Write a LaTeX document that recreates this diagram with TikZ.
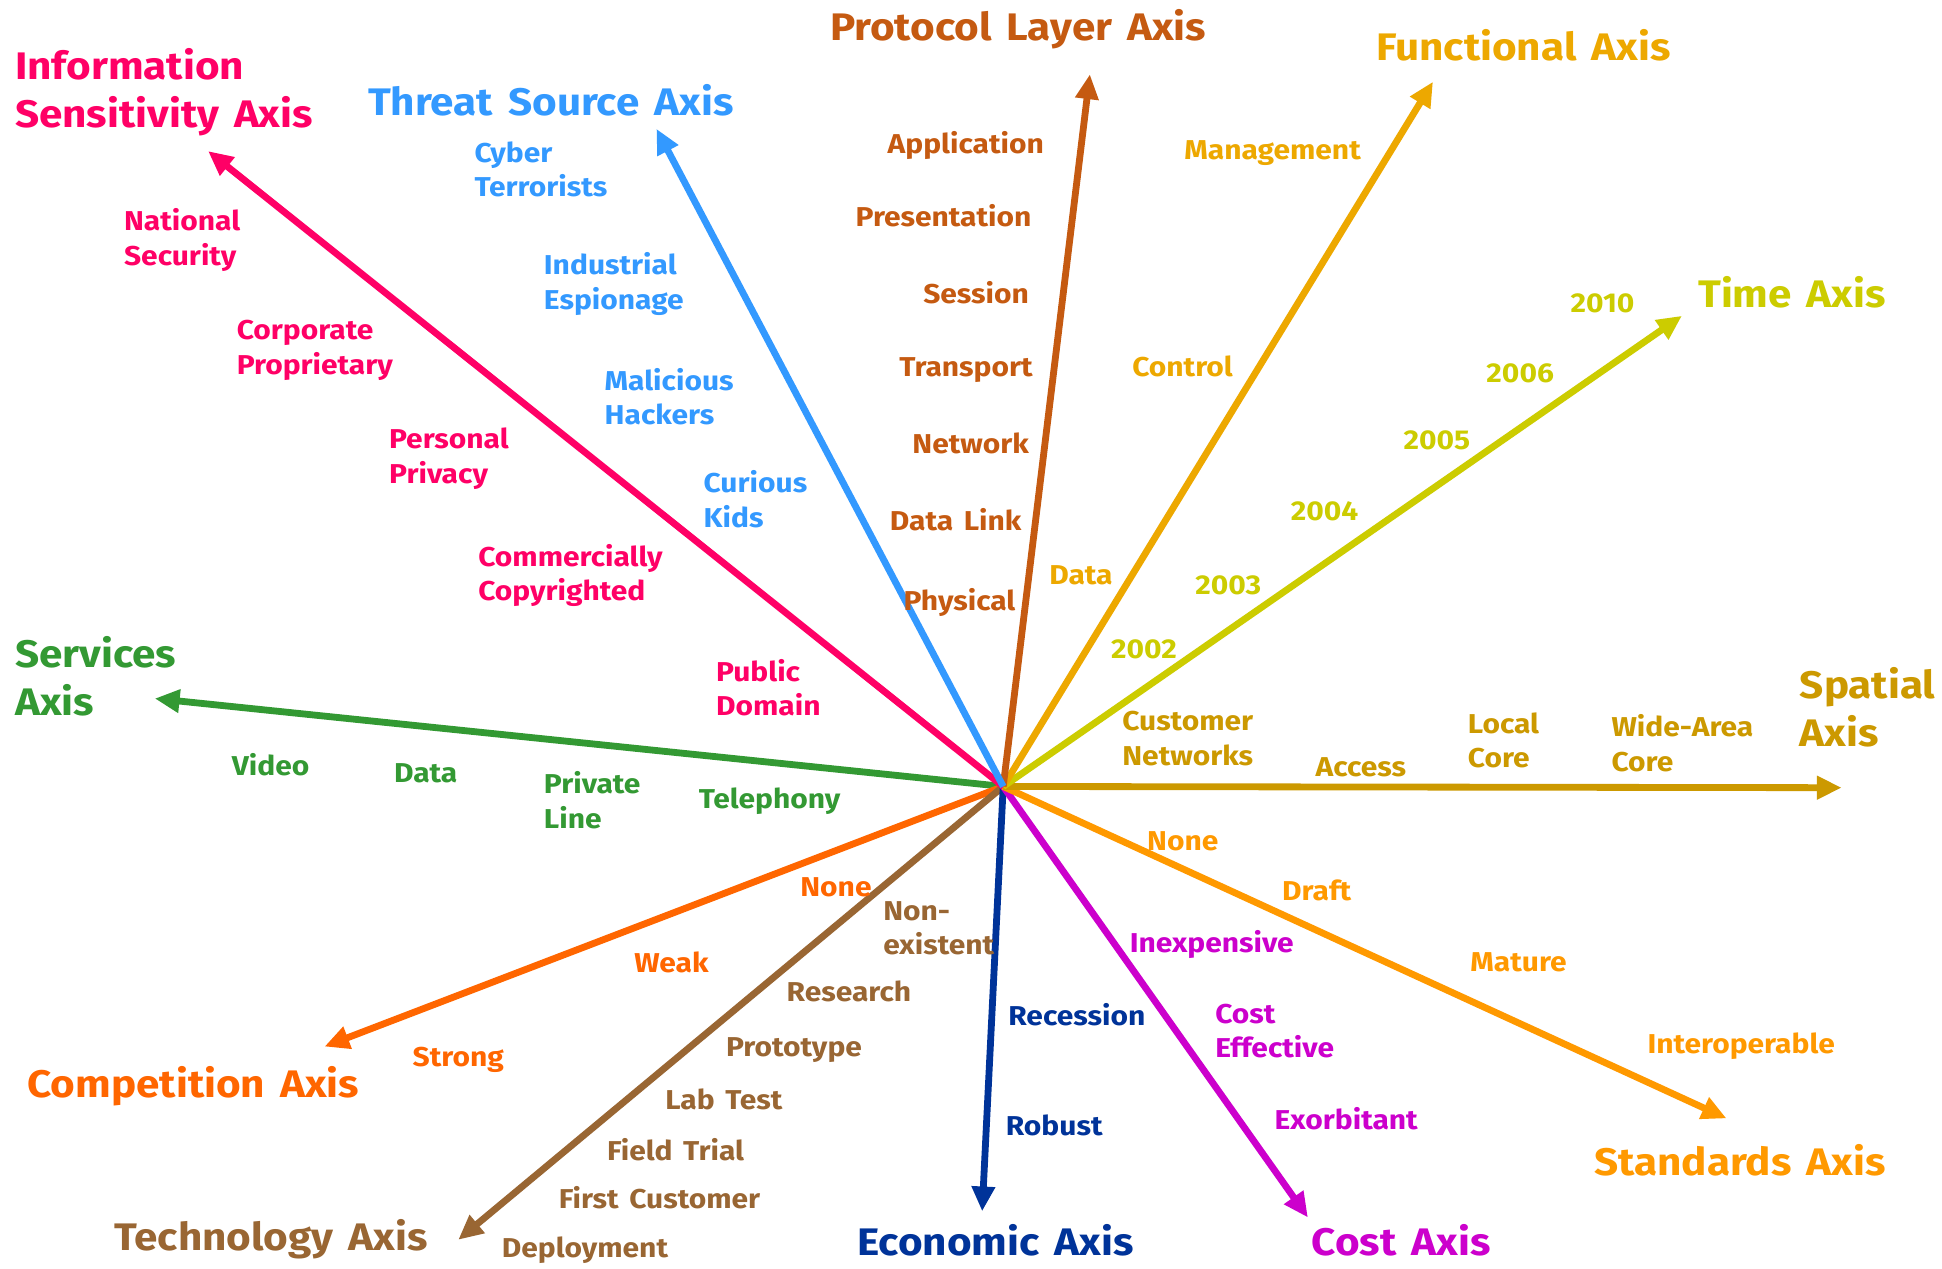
\documentclass[tikz,border=0pt]{standalone}
\usepackage{fontspec}
\setmainfont{Fira Sans}[FakeStretch=1.1, WordSpace=1.5]
\usetikzlibrary{arrows.meta}
\definecolor{cInfo}{HTML}{FF0066}
\definecolor{cThreat}{HTML}{3399FF}
\definecolor{cProto}{HTML}{C55A11}
\definecolor{cFunc}{HTML}{EDA800}
\definecolor{cTime}{HTML}{CCCC00}
\definecolor{cSpat}{HTML}{CC9900}
\definecolor{cStd}{HTML}{FF9900}
\definecolor{cCost}{HTML}{CC00CC}
\definecolor{cEcon}{HTML}{003399}
\definecolor{cTech}{HTML}{996633}
\definecolor{cComp}{HTML}{FF6600}
\definecolor{cServ}{HTML}{339933}
\tikzset{
  axisline/.style={line width=5.5pt, -{Triangle[length=20pt,width=18pt]}},
  lbl/.style={font=\fontsize{22}{28}\selectfont\bfseries, inner sep=0pt, align=left, anchor=base west},
  lblr/.style={font=\fontsize{22}{28}\selectfont\bfseries, inner sep=0pt, align=right, anchor=base east},
  ttl/.style={font=\fontsize{31}{39}\selectfont\bfseries, inner sep=0pt, align=left, anchor=base west},
}
\begin{document}
\begin{tikzpicture}[x=1pt,y=-1pt]
\useasboundingbox[fill=white] (0,0) rectangle (1568,1024);
\coordinate (C) at (810,635);
% axis tips
\coordinate (tInfo) at (168,122);
\coordinate (tThreat) at (530,104);
\coordinate (tProto) at (880,60);
\coordinate (tFunc) at (1157,66);
\coordinate (tTime) at (1358,255);
\coordinate (tSpat) at (1487,636);
\coordinate (tStd) at (1394,903);
\coordinate (tCost) at (1056,983);
\coordinate (tEcon) at (793,978);
\coordinate (tTech) at (370,1001);
\coordinate (tComp) at (262,845);
\coordinate (tServ) at (125,564);
% axes
\draw[axisline,cServ] (C) -- (tServ);
\draw[axisline,cComp] (C) -- (tComp);
\draw[axisline,cTech] (C) -- (tTech);
\draw[axisline,cEcon] (C) -- (tEcon);
\draw[axisline,cCost] (C) -- (tCost);
\draw[axisline,cStd] (C) -- (tStd);
\draw[axisline,cSpat] (C) -- (tSpat);
\draw[axisline,cTime] (C) -- (tTime);
\draw[axisline,cFunc] (C) -- (tFunc);
\draw[axisline,cProto] (C) -- (tProto);
\draw[axisline,cInfo] (C) -- (tInfo);
\draw[axisline,cThreat] (C) -- (tThreat);
% titles (two-line nodes: base anchor is last line's baseline)
\node[ttl,cInfo] (hInfo) at (12,103) {Information\\Sensitivity Axis};
\node[ttl,cThreat] (hThreat) at (297,93) {Threat Source Axis};
\node[ttl,cProto] (hProto) at (670,33) {Protocol Layer Axis};
\node[ttl,cFunc] (hFunc) at (1111,49) {Functional Axis};
\node[ttl,cTime] (hTime) at (1371,248) {Time Axis};
\node[ttl,cSpat] (hSpat) at (1453,603) {Spatial\\Axis};
\node[ttl,cStd] (hStd) at (1287,949) {Standards Axis};
\node[ttl,cCost] (hCost) at (1059,1014) {Cost Axis};
\node[ttl,cEcon] (hEcon) at (692,1014) {Economic Axis};
\node[ttl,cTech] (hTech) at (92,1010) {Technology Axis};
\node[ttl,cComp] (hComp) at (22,886) {Competition Axis};
\node[ttl,cServ] (hServ) at (12,578) {Services\\Axis};
% information sensitivity
\node[lbl,cInfo] (i1) at (100,214) {National\\Security};
\node[lbl,cInfo] (i2) at (191,302) {Corporate\\Proprietary};
\node[lbl,cInfo] (i3) at (314,390) {Personal\\Privacy};
\node[lbl,cInfo] (i4) at (386,485) {Commercially\\Copyrighted};
\node[lbl,cInfo] (i5) at (578,578) {Public\\Domain};
% threat
\node[lbl,cThreat] (th1) at (383,159) {Cyber\\Terrorists};
\node[lbl,cThreat] (th2) at (439,250) {Industrial\\Espionage};
\node[lbl,cThreat] (th3) at (488,343) {Malicious\\Hackers};
\node[lbl,cThreat] (th4) at (568,426) {Curious\\Kids};
% protocol
\node[lblr,cProto] (p1) at (843,124) {Application};
\node[lblr,cProto] (p2) at (833,183) {Presentation};
\node[lblr,cProto] (p3) at (831,245) {Session};
\node[lblr,cProto] (p4) at (834,304) {Transport};
\node[lblr,cProto] (p5) at (831,366) {Network};
\node[lblr,cProto] (p6) at (825,428) {Data Link};
\node[lblr,cProto] (p7) at (820,493) {Physical};
% functional
\node[lbl,cFunc] (f1) at (956,129) {Management};
\node[lbl,cFunc] (f2) at (914,304) {Control};
\node[lbl,cFunc] (f3) at (847,472) {Data};
% time
\node[lbl,cTime] (y1) at (1268,252) {2010};
\node[lbl,cTime] (y2) at (1200,309) {2006};
\node[lbl,cTime] (y3) at (1133,363) {2005};
\node[lbl,cTime] (y4) at (1042,420) {2004};
\node[lbl,cTime] (y5) at (965,480) {2003};
\node[lbl,cTime] (y6) at (897,532) {2002};
% spatial
\node[lbl,cSpat] (s1) at (906,618) {Customer\\Networks};
\node[lbl,cSpat] (s2) at (1062,627) {Access};
\node[lbl,cSpat] (s3) at (1185,620) {Local\\Core};
\node[lbl,cSpat] (s4) at (1301,623) {Wide-Area\\Core};
% standards
\node[lbl,cStd] (st1) at (926,687) {None};
\node[lbl,cStd] (st2) at (1035,727) {Draft};
\node[lbl,cStd] (st3) at (1187,784) {Mature};
\node[lbl,cStd] (st4) at (1330,851) {Interoperable};
% cost
\node[lbl,cCost] (c1) at (912,769) {Inexpensive};
\node[lbl,cCost] (c2) at (981,854) {Cost\\Effective};
\node[lbl,cCost] (c3) at (1029,912) {Exorbitant};
% economic
\node[lbl,cEcon] (e1) at (814,828) {Recession};
\node[lbl,cEcon] (e2) at (812,917) {Robust};
% technology
\node[lbl,cTech] (te1) at (713,771) {Non-\\existent};
\node[lbl,cTech] (te2) at (635,809) {Research};
\node[lbl,cTech] (te3) at (586,853) {Prototype};
\node[lbl,cTech] (te4) at (537,896) {Lab Test};
\node[lbl,cTech] (te5) at (490,937) {Field Trial};
\node[lbl,cTech] (te6) at (451,976) {First Customer};
\node[lbl,cTech] (te7) at (405,1015) {Deployment};
% competition
\node[lbl,cComp] (co1) at (646,724) {None};
\node[lbl,cComp] (co2) at (512,785) {Weak};
\node[lbl,cComp] (co3) at (333,861) {Strong};
% services
\node[lbl,cServ] (sv1) at (187,626) {Video};
\node[lbl,cServ] (sv2) at (318,632) {Data};
\node[lbl,cServ] (sv3) at (439,669) {Private\\Line};
\node[lbl,cServ] (sv4) at (564,653) {Telephony};
\end{tikzpicture}
\end{document}
